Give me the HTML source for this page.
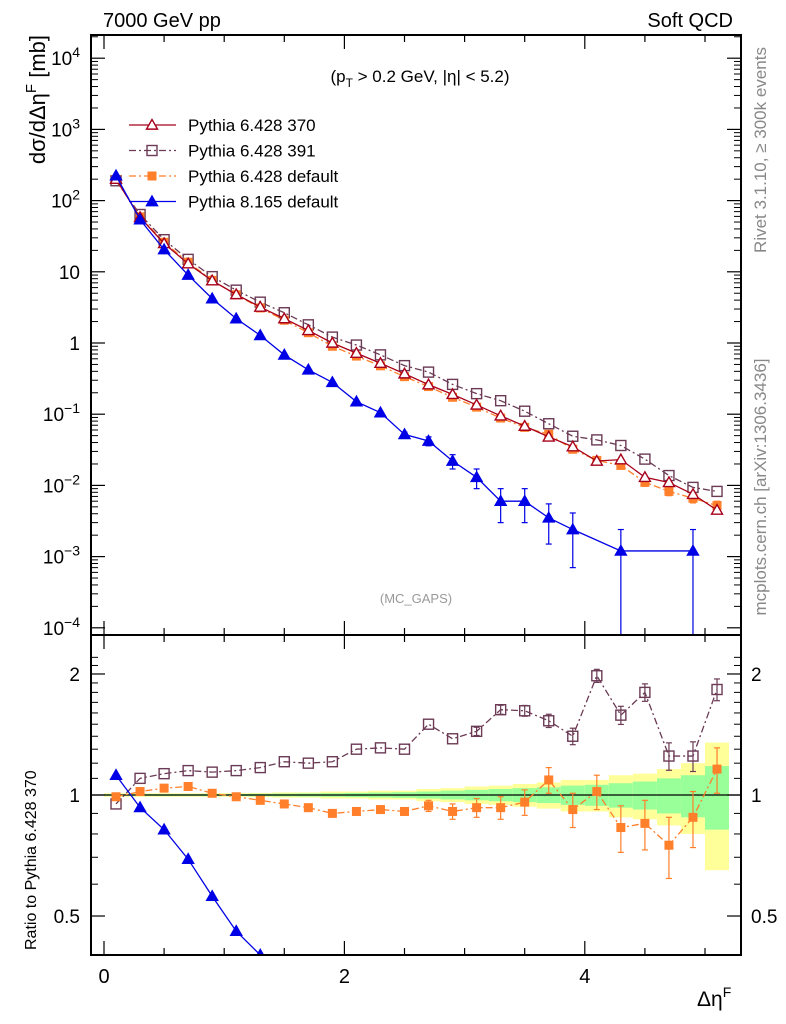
<!DOCTYPE html>
<html><head><meta charset="utf-8"><style>
body{margin:0;background:#fff;overflow:hidden;}
svg{display:block;font-family:"Liberation Sans",sans-serif;}
</style></head><body>
<svg id="c" width="786" height="1024" viewBox="0 0 786 1024" xmlns="http://www.w3.org/2000/svg"></svg>
<script>
const xs=[0.1,0.3,0.5,0.7,0.9,1.1,1.3,1.5,1.7,1.9,2.1,2.3,2.5,2.7,2.9,3.1,3.3,3.5,3.7,3.9,4.1,4.3,4.5,4.7,4.9,5.1];
const ref370=[200,58,25,13,7.5,4.8,3.2,2.2,1.5,1.0,0.72,0.52,0.37,0.26,0.19,0.135,0.095,0.068,0.048,0.035,0.022,0.023,0.013,0.011,0.0075,0.0045];
const ratio391=[0.95,1.1,1.13,1.15,1.14,1.15,1.17,1.21,1.2,1.21,1.3,1.31,1.3,1.5,1.38,1.44,1.63,1.62,1.53,1.4,1.98,1.58,1.8,1.25,1.25,1.83];
const ratioDef=[0.99,1.02,1.04,1.05,1.01,0.99,0.97,0.95,0.93,0.9,0.91,0.92,0.91,0.94,0.91,0.93,0.93,0.96,1.09,0.92,1.02,0.83,0.85,0.75,0.88,1.16];
const p8=[224,54,20.5,9.0,4.2,2.2,1.28,0.68,0.42,0.28,0.15,0.105,0.052,0.042,0.022,0.013,0.006,0.006,0.0035,0.0024,null,0.0012,null,null,0.0012,null];
const p8err=[0,0,0,0,0,0,0,0,0,0,0,0,0.004,0.006,0.005,0.004,0.003,0.003,0.002,0.0017,0,0.0012,0,0,0.0012,0];
const yellowHalf=[0.01,0.01,0.01,0.01,0.01,0.01,0.012,0.015,0.015,0.02,0.02,0.025,0.025,0.035,0.04,0.05,0.055,0.065,0.075,0.09,0.09,0.12,0.13,0.16,0.2,0.35];
const greenHalf=[0.005,0.005,0.005,0.005,0.006,0.006,0.007,0.008,0.009,0.01,0.012,0.014,0.016,0.02,0.025,0.03,0.035,0.04,0.045,0.055,0.06,0.07,0.08,0.1,0.12,0.18];
const mainTicks=[["10","4",4],["10","3",3],["10","2",2],["10","",1],["1","",0],["10","−1",-1],["10","−2",-2],["10","−3",-3],["10","−4",-4]];
const ratioTicks=[2,1,0.5];
const xTicks=[0,2,4];

const S=document.getElementById('c');const NS="http://www.w3.org/2000/svg";
function el(t,a,p){const e=document.createElementNS(NS,t);for(const k in a)e.setAttribute(k,a[k]);(p||S).appendChild(e);return e;}
const L=91,R=741,T=35,MB=635,RB=955;
const X=v=>104+120.2*v;
const Y=v=>343-71.2*Math.log10(v);
const YR=v=>795-402*Math.log10(v);
const clipM=el('clipPath',{id:'cm'});el('rect',{x:L,y:T,width:R-L,height:MB-T},clipM);
const clipR=el('clipPath',{id:'cr'});el('rect',{x:L,y:MB,width:R-L,height:RB-MB},clipR);

const gb=el('g',{'clip-path':'url(#cr)'});

xs.forEach((x,i)=>{
  let r=el('rect',{x:X(x-0.1),y:YR(1+yellowHalf[i]),width:X(0.2)-X(0),height:YR(1-yellowHalf[i])-YR(1+yellowHalf[i]),fill:'#ffff99'},gb);
  
  let g=el('rect',{x:X(x-0.1),y:YR(1+greenHalf[i]),width:X(0.2)-X(0),height:YR(1-greenHalf[i])-YR(1+greenHalf[i]),fill:'#99ff99'},gb);
  
});
el('line',{x1:L,x2:R,y1:YR(1),y2:YR(1),stroke:'#000','stroke-width':1.3});

function marker(g,type,cx,cy,col){
  let m;
  if(type==='tri'||type==='triF'){const s=5.5;m=el('polygon',{points:`${cx},${cy-s} ${cx-s},${cy+s*0.75} ${cx+s},${cy+s*0.75}`,fill:type==='tri'?'#fff':col,stroke:col,'stroke-width':1.4},g);}
  else if(type==='sq'){m=el('rect',{x:cx-5,y:cy-5,width:10,height:10,fill:'none',stroke:col,'stroke-width':1.4},g);}
  else {m=el('rect',{x:cx-4.5,y:cy-4.5,width:9,height:9,fill:col},g);}
  
}
function series(name,vals,yf,col,dash,type,clip,errs,bottom){
  const g=el('g',{'clip-path':`url(#${clip})`});
  
  const pts=[];xs.forEach((x,i)=>{if(vals[i]!=null&&vals[i]>0)pts.push([X(x),yf(vals[i]),i]);});
  el('polyline',{points:pts.map(p=>p[0]+','+p[1]).join(' '),fill:'none',stroke:col,'stroke-width':1.3,'stroke-dasharray':dash},g);
  if(errs)pts.forEach(p=>{const e=errs[p[2]];if(e>0){const v=vals[p[2]];const lo=v-e>0?Math.min(yf(v-e),bottom):bottom;const hi=yf(v+e);
    el('line',{x1:p[0],x2:p[0],y1:hi,y2:lo,stroke:col,'stroke-width':1.2},g);
    el('line',{x1:p[0]-3,x2:p[0]+3,y1:hi,y2:hi,stroke:col,'stroke-width':1.2},g);
    if(lo<bottom)el('line',{x1:p[0]-3,x2:p[0]+3,y1:lo,y2:lo,stroke:col,'stroke-width':1.2},g);}});
  pts.forEach(p=>marker(g,type,p[0],p[1],col));
}
const C370='#a8001a',C391='#6b3a55',CDEF='#ff7f2a',C8='#0000e6';
const v391=ref370.map((v,i)=>v*ratio391[i]);
const vDef=ref370.map((v,i)=>v*ratioDef[i]);
const err391=ratio391.map((r,i)=>xs[i]>3?0.03+0.04*(xs[i]-3):0);
const errDef=ratioDef.map((r,i)=>xs[i]>2.5?0.02+0.05*(xs[i]-2.5):0);
series('series-pythia6-391',v391,Y,C391,'7,3,2,3','sq','cm',null,MB);
series('series-pythia6-default',vDef,Y,CDEF,'7,3,2,3','sqF','cm',vDef.map((v,i)=>v*errDef[i]),MB);
series('series-pythia6-370',ref370,Y,C370,'','tri','cm',null,MB);
series('series-pythia8-165',p8,Y,C8,'','triF','cm',p8err,MB);
series('ratio-pythia6-391',ratio391,YR,C391,'7,3,2,3','sq','cr',err391,RB);
series('ratio-pythia6-default',ratioDef,YR,CDEF,'7,3,2,3','sqF','cr',errDef,RB);
series('ratio-pythia8-165',p8.map((v,i)=>v==null?null:v/ref370[i]),YR,C8,'','triF','cr',null,RB);

el('rect',{x:L,y:T,width:R-L,height:MB-T,fill:'none',stroke:'#000','stroke-width':2});
el('rect',{x:L,y:MB,width:R-L,height:RB-MB,fill:'none',stroke:'#000','stroke-width':2});
function txt(s,x,y,size,anchor,name,extra){const t=el('text',Object.assign({x:x,y:y,'font-size':size,'text-anchor':anchor||'start'},extra||{}));t.innerHTML=s;return t;}
for(let d=-4;d<=4;d++){const y=Y(Math.pow(10,d));
  el('line',{x1:L,x2:L+14,y1:y,y2:y,stroke:'#000','stroke-width':1.2});el('line',{x1:R-14,x2:R,y1:y,y2:y,stroke:'#000','stroke-width':1.2});
  for(let k=2;k<10;k++){const yy=Y(k*Math.pow(10,d));if(yy<T||yy>MB)continue;
    el('line',{x1:L,x2:L+7,y1:yy,y2:yy,stroke:'#000'});el('line',{x1:R-7,x2:R,y1:yy,y2:yy,stroke:'#000'});}}
mainTicks.forEach(t=>{const y=Y(Math.pow(10,t[2]));
  const tt=txt(t[0],80,y+7,19,'end','y-tick-label');
  if(t[1]){tt.innerHTML=t[0]+'<tspan dy="-8" font-size="14">'+t[1]+'</tspan>';}});
ratioTicks.forEach(r=>{const y=YR(r);el('line',{x1:L,x2:L+14,y1:y,y2:y,stroke:'#000','stroke-width':1.2});el('line',{x1:R-14,x2:R,y1:y,y2:y,stroke:'#000','stroke-width':1.2});
  txt(String(r),80,y+7,19,'end','ratio-tick-label');txt(String(r),751,y+7,19,'start','ratio-tick-label-right');});
[0.6,0.7,0.8,0.9,1.1,1.2,1.3,1.4,1.5,1.6,1.7,1.8,1.9,2.1,2.2].forEach(r=>{const y=YR(r);if(y<MB||y>RB)return;el('line',{x1:L,x2:L+7,y1:y,y2:y,stroke:'#000'});el('line',{x1:R-7,x2:R,y1:y,y2:y,stroke:'#000'});});
for(let v=0;v<=5.2;v+=0.5){const x=X(v);const major=Math.abs(v-Math.round(v/2)*2)<1e-6;const len=major?14:7;
  [[MB,MB-len],[MB,MB+len],[RB,RB-len],[T,T+len]].forEach(p=>el('line',{x1:x,x2:x,y1:p[0],y2:p[1],stroke:'#000','stroke-width':1.2}));}
xTicks.forEach(v=>txt(String(v),X(v),983,20,'middle','x-tick-label'));
txt('7000 GeV pp',103,27,20,'start','plot-title-left');
txt('Soft QCD',733,27,20,'end','plot-title-right');
txt('(p<tspan dy="5" font-size="12">T</tspan><tspan dy="-5"> &gt; 0.2 GeV, |η| &lt; 5.2)</tspan>',420,82,17,'middle','cut-label');
txt('Δη<tspan dy="-9" font-size="14">F</tspan>',697,1006,21,'start','x-axis-title');
txt('dσ/dΔη<tspan dy="-9" font-size="15">F</tspan><tspan dy="9"> [mb]</tspan>',0,0,22,'end','y-axis-title',{transform:'translate(45,35) rotate(-90)'});
txt('Ratio to Pythia 6.428 370',0,0,16,'start','ratio-axis-title',{transform:'translate(36,950) rotate(-90)'});
txt('(MC_GAPS)',416,603,13,'middle','analysis-label',{fill:'#999'});
txt('Rivet 3.1.10, ≥ 300k events',0,0,17,'middle','rivet-label',{fill:'#888',transform:'translate(766,150) rotate(-90)'});
txt('mcplots.cern.ch [arXiv:1306.3436]',0,0,17,'middle','mcplots-label',{fill:'#888',transform:'translate(766,487) rotate(-90)'});
const leg=[['Pythia 6.428 370',C370,'','tri'],['Pythia 6.428 391',C391,'7,3,2,3','sq'],['Pythia 6.428 default',CDEF,'7,3,2,3','sqF'],['Pythia 8.165 default',C8,'','triF']];
leg.forEach((l,i)=>{const g=el('g',{});
  const y=125+i*25.5;el('line',{x1:129,x2:176,y1:y,y2:y,stroke:l[1],'stroke-width':1.3,'stroke-dasharray':l[2]},g);
  marker(g,l[3],152,y,l[1]);const t=el('text',{x:188,y:y+6,'font-size':17},g);t.textContent=l[0];});
</script>
</body></html>
